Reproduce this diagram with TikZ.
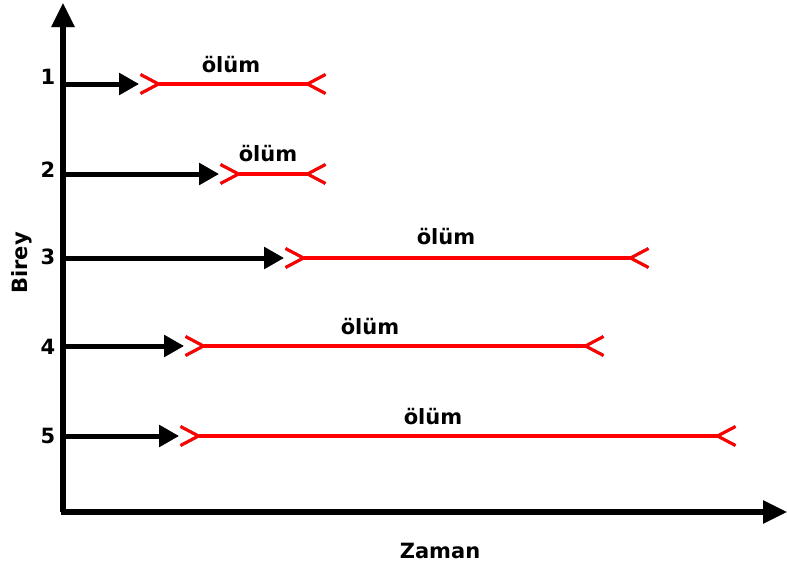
\documentclass[tikz,border=0pt]{standalone}
\usepackage{fontspec}
\setmainfont{DejaVu Sans}
\usetikzlibrary{arrows.meta}
\tikzset{
  lbl/.style={font=\bfseries\fontsize{21}{23}\selectfont, inner sep=0pt, anchor=base},
  num/.style={font=\bfseries\fontsize{21}{23}\selectfont, inner sep=0pt},
  axis/.style={line width=5.5pt, -{Triangle[length=24pt,width=22pt]}},
  pre/.style={line width=5pt, -{Triangle[length=20pt,width=21pt]}},
  life/.style={line width=4.5pt, red, {Straight Barb[reversed,length=18pt,width=19pt,line width=3pt]}-{Straight Barb[reversed,length=18pt,width=19pt,line width=3pt]}},
  shadow/.style={black!50, shift={(2pt,-2.5pt)}}
}
\begin{document}
\begin{tikzpicture}[x=1pt,y=-1pt]
\useasboundingbox (0,0) rectangle (787,570);
% axes
\coordinate (o) at (63,512);
\coordinate (ytop) at (63,3);
\coordinate (ox) at (61,512);
\coordinate (xend) at (787,512);
\draw[axis, shadow] (o) -- (ytop);
\draw[axis, shadow] (ox) -- (xend);
\draw[axis] (o) -- (ytop);
\draw[axis] (ox) -- (xend);
% rows: y, black end, red end, label x, label baseline, number y
\foreach \i/\y/\b/\r/\lx/\ly/\ny in {1/84/139/327/231/72/77, 2/174/219/327/268/161/170, 3/258/284/650/446/244/257, 4/346/184/605/370/334/347, 5/436/179/737/433/424/436}{
  \coordinate (s\i) at (65,\y);
  \coordinate (b\i) at (\b,\y);
  \coordinate (r\i) at (\r,\y);
  \node[num] (n\i) at (48,\ny) {\i};
  \node[lbl] (l\i) at (\lx,\ly) {ölüm};
  \draw[pre, shadow] (s\i) -- (b\i);
  \draw[life, shadow] (b\i) -- (r\i);
  \draw[pre] (s\i) -- (b\i);
  \draw[life] (b\i) -- (r\i);
}
\node[num, rotate=90] (birey) at (22,263) {Birey};
\node[num] (zaman) at (440,551) {Zaman};
\end{tikzpicture}
\end{document}
